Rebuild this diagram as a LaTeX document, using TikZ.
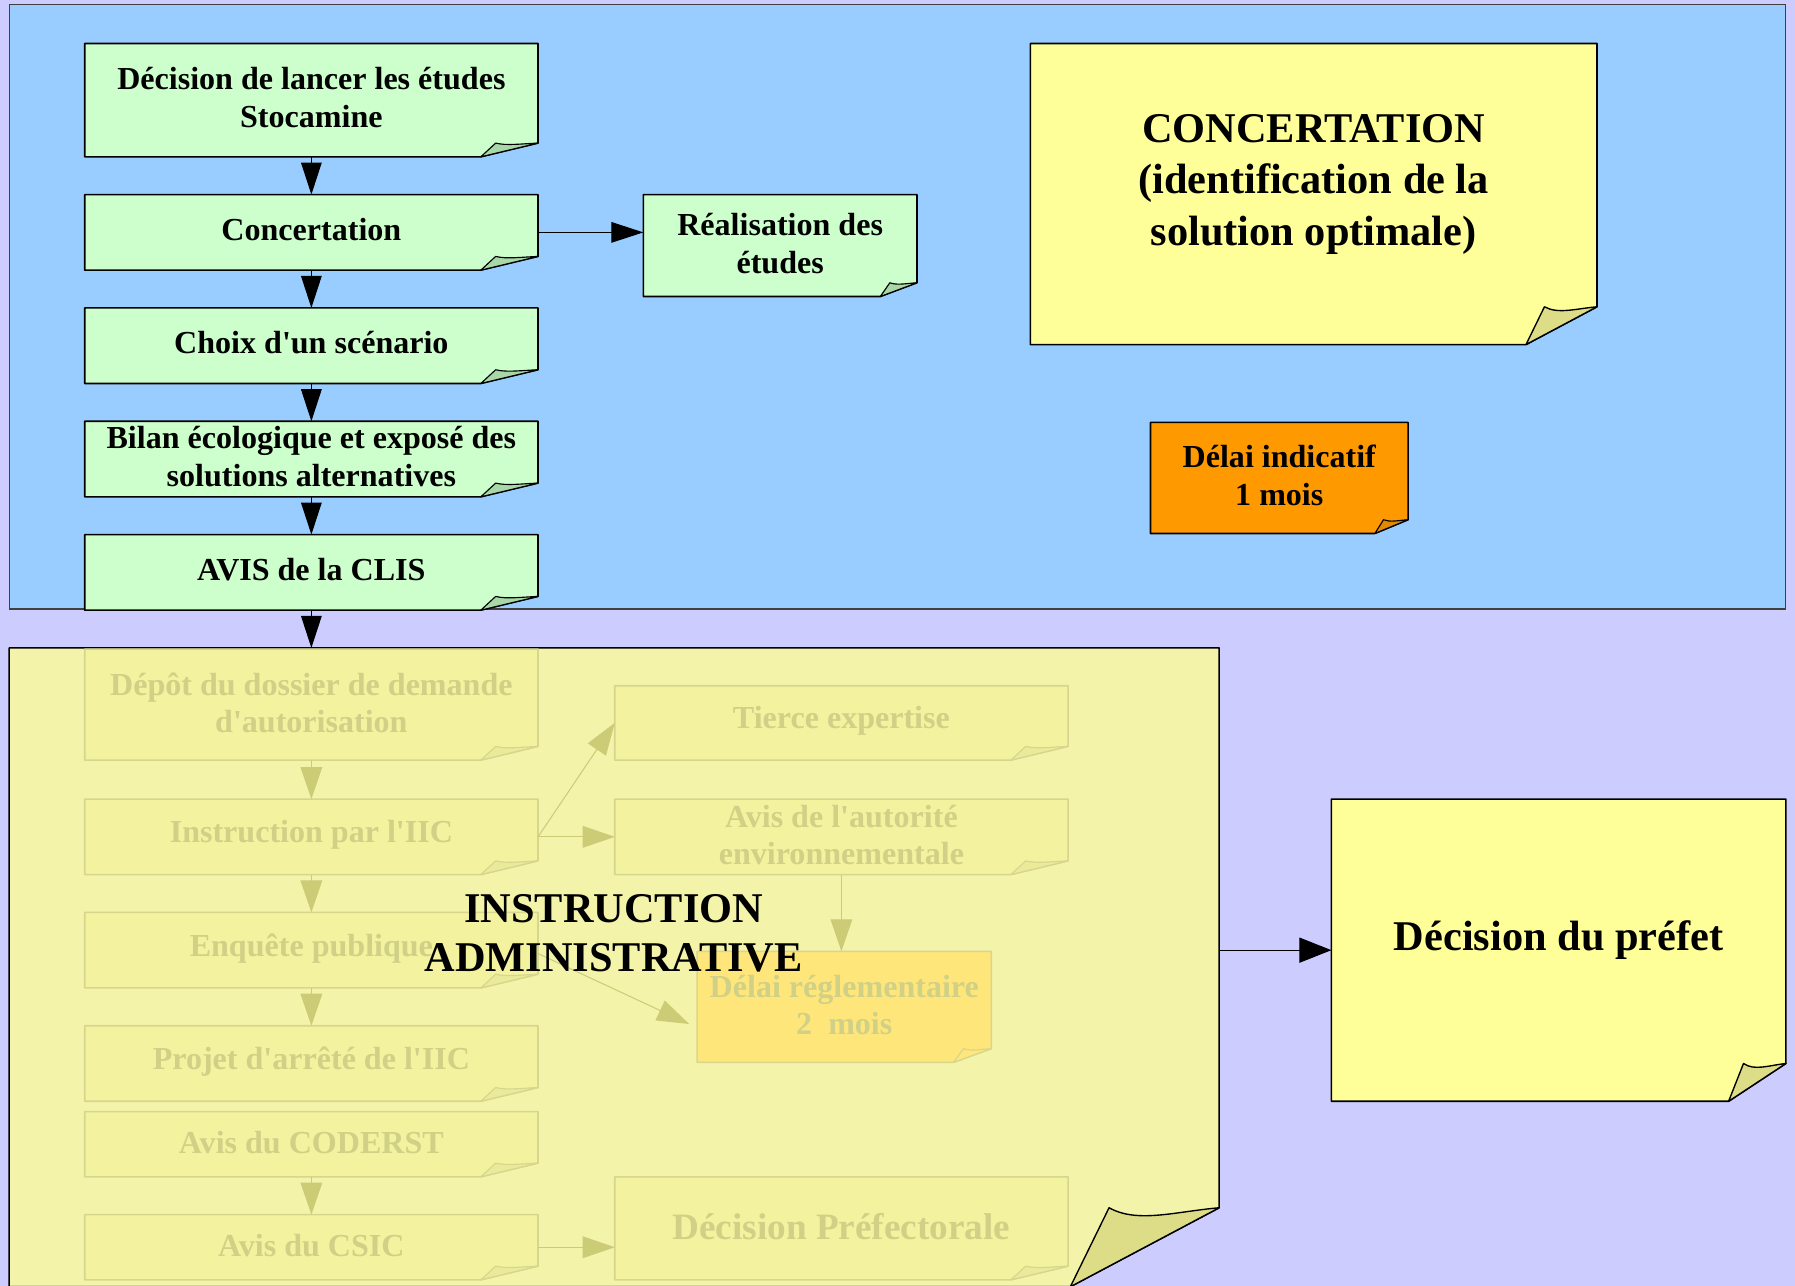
\documentclass[tikz,border=0pt]{standalone}
\usepackage{fontspec}
\setmainfont{Liberation Serif}[Ligatures=TeXOff]
\usetikzlibrary{arrows.meta,calc}

\definecolor{bg}{HTML}{CCCCFF}
\definecolor{bluepanel}{HTML}{99CCFF}
\definecolor{greenbox}{HTML}{CCFFCC}
\definecolor{greenfold}{HTML}{A8D8A8}
\definecolor{note}{HTML}{FFFF99}
\definecolor{notefold}{HTML}{DDDD88}
\definecolor{orangebox}{HTML}{FF9900}
\definecolor{orangefold}{HTML}{E08A00}
\definecolor{instrpanel}{HTML}{F3F3AA}
\definecolor{fadebox}{HTML}{F2F29F}
\definecolor{fadefold}{HTML}{EAEA9A}
\definecolor{fadeline}{HTML}{D6D68E}
\definecolor{fadetext}{HTML}{D0D087}
\definecolor{fadearrow}{HTML}{CCCC77}
\definecolor{delaibox}{HTML}{FFE67A}

\newcommand\notebox[9]{%
  \path[#1-body] (#3,#4) -- (#5,#4) -- (#5,{#6-#8}) -- ({#5-#7},#6) -- (#3,#6) -- cycle;
  \path[#1-fold] ({#5-#7},#6) -- ({#5-0.74*#7},{#6-#8})
    .. controls ({#5-0.55*#7},{#6-0.8*#8}) and ({#5-0.3*#7},{#6-0.95*#8}) .. (#5,{#6-#8}) -- cycle;
  \node[inner sep=0pt,outer sep=0pt,minimum width={(#5-#3)*1pt},minimum height={(#6-#4)*1pt}] (#2) at ({(#3+#5)/2},{(#4+#6)/2}) {};
  \node[#1-text] (#2-t) at (#2.center) {#9};
}

\begin{document}
\begin{tikzpicture}[x=1pt,y=-1pt,
  green-body/.style={fill=greenbox,draw=black,line width=1.4pt,line join=round},
  green-fold/.style={fill=greenfold,draw=black,line width=1pt,line join=round},
  green-text/.style={font=\fontsize{28}{33}\selectfont\bfseries,align=center,yshift=2.5pt},
  small-body/.style={green-body},
  small-fold/.style={green-fold},
  small-text/.style={green-text,yshift=-1pt},
  note-body/.style={fill=note,draw=black,line width=1.4pt,line join=round},
  note-fold/.style={fill=notefold,draw=black,line width=1.2pt,line join=round},
  note-text/.style={font=\fontsize{37}{45}\selectfont\bfseries,align=center,yshift=8.5pt},
  orange-body/.style={fill=orangebox,draw=black,line width=1.4pt,line join=round},
  orange-fold/.style={fill=orangefold,draw=black,line width=1pt,line join=round},
  orange-text/.style={font=\fontsize{28}{33}\selectfont\bfseries,align=center,yshift=2.5pt},
  panel-body/.style={fill=instrpanel,draw=black,line width=1.4pt,line join=round},
  panel-fold/.style={fill=notefold,draw=black,line width=1.2pt,line join=round},
  panel-text/.style={},
  fade-body/.style={fill=fadebox,draw=fadeline,line width=1.4pt,line join=round},
  fade-fold/.style={fill=fadefold,draw=fadeline,line width=1pt,line join=round},
  fade-text/.style={font=\fontsize{28}{33}\selectfont\bfseries,align=center,text=fadetext,yshift=1.5pt},
  fadebig-body/.style={fade-body},
  fadebig-fold/.style={fade-fold},
  fadebig-text/.style={fade-text,font=\fontsize{32.5}{38}\selectfont\bfseries},
  delai-body/.style={fill=delaibox,draw=fadeline,line width=1.4pt,line join=round},
  delai-fold/.style={fill=delaibox,draw=fadeline,line width=1pt,line join=round},
  delai-text/.style={fade-text},
  arr/.style={draw=black,line width=0.9pt,-{Triangle[length=28pt,width=18pt]}},
  fadearr/.style={draw=fadearrow,line width=0.9pt,-{Triangle[length=28pt,width=19pt]}},
  title/.style={font=\fontsize{37}{43}\selectfont\bfseries,align=center,text=black}
]
\useasboundingbox (0,0) rectangle (1568,1123);
\fill[bg] (0,0) rectangle (1568,1123);

% Concertation panel
\node[fill=bluepanel,draw=black!75,line width=1pt,inner sep=0pt,outer sep=0pt,
  minimum width=1552pt,minimum height=528pt] (blue) at (784,268) {};

\notebox{green}{g1}{74}{38}{470}{137}{50}{12}{Décision de lancer les études\\Stocamine}
\notebox{green}{g2}{74}{170}{470}{236}{50}{12}{Concertation}
\notebox{green}{g3}{74}{269}{470}{335}{50}{12}{Choix d'un scénario}
\notebox{green}{g4}{74}{368}{470}{434}{50}{12}{Bilan écologique et exposé des\\solutions alternatives}
\notebox{green}{g5}{74}{467}{470}{533}{50}{12}{AVIS de la CLIS}
\notebox{small}{real}{562}{170}{801}{259}{32}{12}{Réalisation des\\études}

\draw[arr] (g1.south) -- (g2.north);
\draw[arr] (g2.south) -- (g3.north);
\draw[arr] (g3.south) -- (g4.north);
\draw[arr] (g4.south) -- (g5.north);
\draw[arr] (g2.east) -- (g2.east -| real.west);

\notebox{note}{conc}{900}{38}{1395}{301}{62}{33}{CONCERTATION\\(identification de la\\ solution optimale)}
\notebox{orange}{delind}{1005}{369}{1230}{466}{29}{12}{Délai indicatif\\1 mois}

% Instruction panel
\notebox{panel}{panel}{8}{566}{1065}{1124}{130}{69}{}

\notebox{fade}{dep}{74}{567}{470}{664}{50}{12}{Dépôt du dossier de demande\\d'autorisation}
\notebox{fade}{inst}{74}{698}{470}{764}{50}{12}{Instruction par l'IIC}
\notebox{fade}{enq}{74}{797}{470}{863}{50}{12}{Enquête publique}
\notebox{fade}{proj}{74}{896}{470}{962}{50}{12}{Projet d'arrêté de l'IIC}
\notebox{fade}{cod}{74}{971}{470}{1028}{50}{12}{Avis du CODERST}
\notebox{fade}{csic}{74}{1061}{470}{1118}{50}{12}{Avis du CSIC}
\notebox{fade}{tier}{537}{599}{933}{664}{50}{12}{Tierce expertise}
\notebox{fade}{aut}{537}{698}{933}{764}{50}{12}{Avis de l'autorité\\environnementale}
\notebox{delai}{dreg}{609}{831}{866}{928}{33}{12}{Délai réglementaire\\2~ mois}
\notebox{fadebig}{dpref}{537}{1028}{933}{1118}{50}{12}{Décision Préfectorale}

\draw[fadearr] (dep.south) -- (inst.north);
\draw[fadearr] (inst.south) -- (enq.north);
\draw[fadearr] (enq.south) -- (proj.north);
\draw[fadearr] (cod.south) -- (csic.north);
\draw[fadearr] (inst.east) -- (tier.west);
\draw[fadearr] (inst.east) -- (aut.west);
\draw[fadearr] (aut.south) -- (aut.south |- dreg.north);
\draw[fadearr] ([yshift=-3pt]enq.east) -- ([xshift=-7pt,yshift=-15pt]dreg.west);
\draw[fadearr] (csic.east) -- (csic.east -| dpref.west);

\node[title] (titre) at (536,815) {INSTRUCTION\\ADMINISTRATIVE};

\draw[arr] (g5.south) -- (g5.south |- panel.north);

\notebox{note}{pref}{1163}{698}{1560}{962}{50}{33}{Décision du préfet}
\draw[arr,-{Triangle[length=28pt,width=22pt]}] (pref.west -| panel.east) -- (pref.west);
\end{tikzpicture}
\end{document}
